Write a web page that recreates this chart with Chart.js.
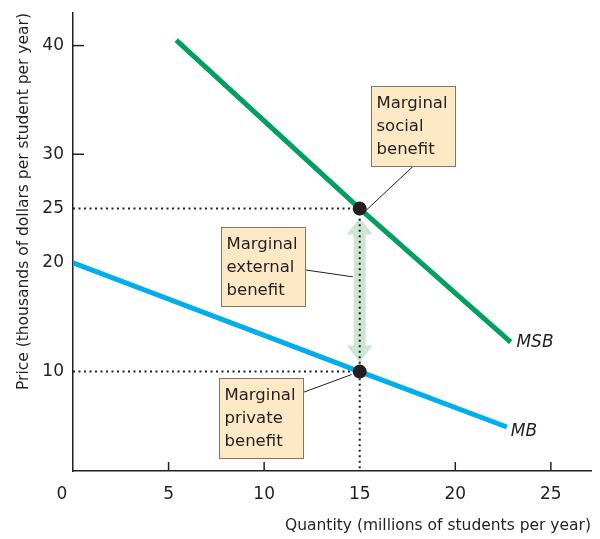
<!DOCTYPE html>
<html>
<head>
<meta charset="utf-8">
<script src="https://cdn.jsdelivr.net/npm/chart.js@4/dist/chart.umd.min.js"></script>
<style>
body { margin: 0; background: #fff; }
#wrap { width: 600px; height: 539px; }
</style>
</head>
<body>
<div id="wrap"><canvas id="chart"></canvas></div>
<script>
// curve data (quantity in millions, price in thousands of dollars)
var msbX = [5.4, 15, 22.9];
var msbY = [40.5, 25, 12.7];
var mbX = [0, 15, 22.7];
var mbY = [20, 10, 4.9];
var eqX = [15, 15];
var eqY = [25, 10];

var xTicks = [0, 5, 10, 15, 20, 25];
var yTicks = [10, 20, 25, 30, 40];
var xTickMarks = [5, 10, 20, 25];
var yTickMarks = [30, 40];

var xMin = 0, xMax = 27.1;
var yMin = 0.85, yMax = 43;

var ink = '#231f20';
var font = '"DejaVu Sans", sans-serif';

function pts(xs, ys) {
	var out = [];
	for (var i = 0; i < xs.length; i++) {
		out.push({ x: xs[i], y: ys[i] });
	}
	return out;
}

// annotation boxes, placed in data units
var boxes = [
	{ x: 15.6, y: 36.3, w: 84, h: 80, lines: ['Marginal', 'social', 'benefit'], from: [17.83, 28.95], to: [15.25, 24.7] },
	{ x: 7.74, y: 23.34, w: 84, h: 79, lines: ['Marginal', 'external', 'benefit'], from: [12.13, 19.36], to: [14.64, 18.72] },
	{ x: 7.63, y: 9.45, w: 84, h: 80, lines: ['Marginal', 'private', 'benefit'], from: [12.02, 8.07], to: [14.58, 9.73] }
];

var curveLabels = [
	{ text: 'MSB', x: 23.2, y: 12.7 },
	{ text: 'MB', x: 22.9, y: 4.5 }
];

var overlay = {
	id: 'overlay',
	beforeDatasetsDraw: function(chart) {
		var ctx = chart.ctx, xs = chart.scales.x, ys = chart.scales.y;

		// double arrow between the two curves
		var ax = xs.getPixelForValue(eqX[0]);
		var top = ys.getPixelForValue(eqY[0]) + 9;
		var bot = ys.getPixelForValue(eqY[1]) - 9;
		ctx.save();
		ctx.fillStyle = '#cde6d4';
		ctx.beginPath();
		ctx.moveTo(ax, top);
		ctx.lineTo(ax + 13, top + 17);
		ctx.lineTo(ax + 6, top + 17);
		ctx.lineTo(ax + 6, bot - 17);
		ctx.lineTo(ax + 13, bot - 17);
		ctx.lineTo(ax, bot);
		ctx.lineTo(ax - 13, bot - 17);
		ctx.lineTo(ax - 6, bot - 17);
		ctx.lineTo(ax - 6, top + 17);
		ctx.lineTo(ax - 13, top + 17);
		ctx.closePath();
		ctx.fill();
		ctx.restore();
	},
	afterDatasetsDraw: function(chart) {
		var ctx = chart.ctx, xs = chart.scales.x, ys = chart.scales.y;
		ctx.save();

		// leader lines + boxes
		boxes.forEach(function(b) {
			ctx.strokeStyle = ink;
			ctx.lineWidth = 1;
			ctx.beginPath();
			ctx.moveTo(xs.getPixelForValue(b.from[0]), ys.getPixelForValue(b.from[1]));
			ctx.lineTo(xs.getPixelForValue(b.to[0]), ys.getPixelForValue(b.to[1]));
			ctx.stroke();

			var bx = Math.round(xs.getPixelForValue(b.x)) + 0.5;
			var by = Math.round(ys.getPixelForValue(b.y)) + 0.5;
			ctx.fillStyle = '#fde9c6';
			ctx.fillRect(bx, by, b.w, b.h);
			ctx.strokeStyle = '#857560';
			ctx.strokeRect(bx, by, b.w, b.h);

			ctx.fillStyle = ink;
			ctx.font = '16.5px ' + font;
			ctx.textAlign = 'left';
			ctx.textBaseline = 'middle';
			b.lines.forEach(function(t, i) {
				ctx.fillText(t, bx + 5, by + 17 + i * 23);
			});
		});

		// curve names
		ctx.font = 'italic 17px ' + font;
		ctx.fillStyle = ink;
		ctx.textAlign = 'left';
		ctx.textBaseline = 'middle';
		curveLabels.forEach(function(l) {
			ctx.fillText(l.text, xs.getPixelForValue(l.x), ys.getPixelForValue(l.y));
		});
		ctx.restore();
	},
	afterDraw: function(chart) {
		var ctx = chart.ctx, xs = chart.scales.x, ys = chart.scales.y;
		var area = chart.chartArea;
		ctx.save();
		ctx.strokeStyle = ink;
		ctx.lineWidth = 1.5;
		// inward tick marks
		yTickMarks.forEach(function(v) {
			var y = ys.getPixelForValue(v);
			ctx.beginPath();
			ctx.moveTo(area.left, y);
			ctx.lineTo(area.left + 11, y);
			ctx.stroke();
		});
		xTickMarks.forEach(function(v) {
			var x = xs.getPixelForValue(v);
			ctx.beginPath();
			ctx.moveTo(x, area.bottom);
			ctx.lineTo(x, area.bottom - 9);
			ctx.stroke();
		});
		// origin label sits left of the axis
		ctx.fillStyle = ink;
		ctx.font = '17px ' + font;
		ctx.textAlign = 'center';
		ctx.textBaseline = 'middle';
		ctx.fillText(String(xTicks[0]), xs.getPixelForValue(xTicks[0]) - 11, area.bottom + 24);
		ctx.restore();
	}
};

var context = document.getElementById('chart').getContext('2d');
var chart = new Chart(context, {
	type: 'scatter',
	data: {
		datasets: [
			{
				label: 'equilibria',
				data: pts(eqX, eqY),
				pointRadius: 7,
				pointBackgroundColor: ink,
				pointBorderWidth: 0,
				showLine: false,
				order: 0
			},
			{
				label: 'MSB',
				data: pts(msbX, msbY),
				showLine: true,
				borderColor: '#00a05e',
				borderWidth: 5,
				pointRadius: 0,
				order: 1
			},
			{
				label: 'MB',
				data: pts(mbX, mbY),
				showLine: true,
				borderColor: '#00aeef',
				borderWidth: 5,
				pointRadius: 0,
				order: 1
			},
			{
				label: 'guide 25',
				data: [{ x: xMin, y: eqY[0] }, { x: eqX[0], y: eqY[0] }, { x: eqX[0], y: yMin }],
				showLine: true,
				borderColor: ink,
				borderWidth: 2,
				borderDash: [2, 3.5],
				pointRadius: 0,
				order: 2
			},
			{
				label: 'guide 10',
				data: [{ x: xMin, y: eqY[1] }, { x: eqX[1], y: eqY[1] }],
				showLine: true,
				borderColor: ink,
				borderWidth: 2,
				borderDash: [2, 3.5],
				pointRadius: 0,
				order: 2
			}
		]
	},
	options: {
		responsive: true,
		maintainAspectRatio: false,
		animation: false,
		layout: { padding: { top: 13, right: 9, left: 0, bottom: 0 } },
		plugins: {
			legend: { display: false },
			tooltip: { enabled: false }
		},
		scales: {
			x: {
				type: 'linear',
				min: xMin,
				max: xMax,
				afterFit: function(scale) {
					scale.height = 68;
					scale.paddingLeft = 0;
					scale.paddingRight = 0;
				},
				afterBuildTicks: function(scale) {
					scale.ticks = xTicks.map(function(v) { return { value: v }; });
				},
				grid: { display: false, drawTicks: false },
				border: { display: true, color: ink, width: 1.5 },
				ticks: {
					color: ink,
					font: { family: font, size: 17 },
					padding: 13,
					maxRotation: 0,
					autoSkip: false,
					callback: function(v) { return v === 0 ? '' : v; }
				},
				title: {
					display: true,
					text: 'Quantity (millions of students per year)',
					align: 'end',
					color: ink,
					font: { family: font, size: 15.5 },
					padding: { top: 0, bottom: 4 }
				}
			},
			y: {
				type: 'linear',
				min: yMin,
				max: yMax,
				afterFit: function(scale) {
					scale.width = 73;
					scale.paddingTop = 0;
					scale.paddingBottom = 0;
				},
				afterBuildTicks: function(scale) {
					scale.ticks = yTicks.map(function(v) { return { value: v }; });
				},
				grid: { display: false, drawTicks: false },
				border: { display: true, color: ink, width: 1.5 },
				ticks: {
					color: ink,
					font: { family: font, size: 17 },
					padding: 9,
					autoSkip: false
				},
				title: {
					display: true,
					text: 'Price (thousands of dollars per student per year)',
					align: 'end',
					color: ink,
					font: { family: font, size: 15.5 },
					padding: { top: 15, bottom: 0 }
				}
			}
		}
	},
	plugins: [overlay]
});
</script>
</body>
</html>
